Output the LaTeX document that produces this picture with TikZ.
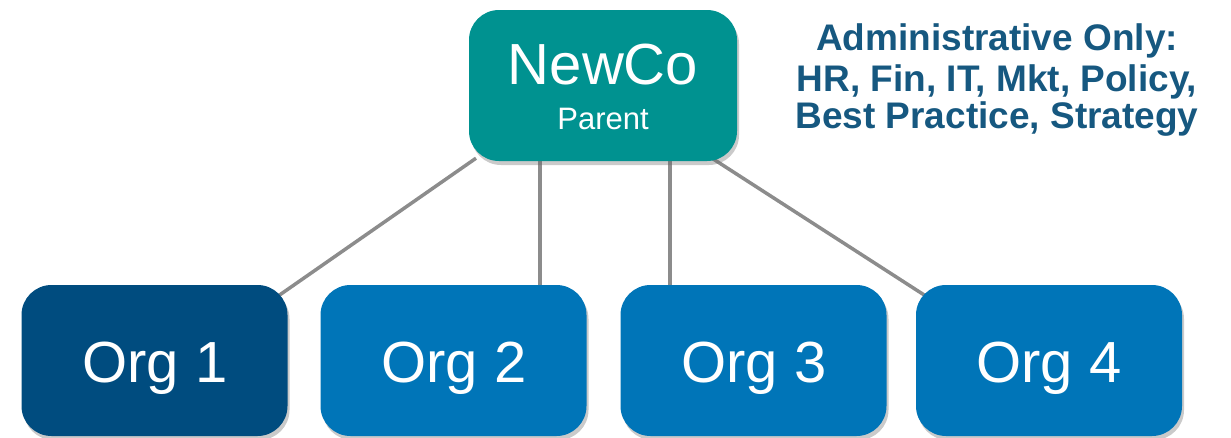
\documentclass[tikz,border=0pt]{standalone}
\usepackage{fontspec}
\setmainfont{Liberation Sans}
\usetikzlibrary{shadows,backgrounds}
\definecolor{teal1}{RGB}{0,146,144}
\definecolor{navy1}{RGB}{0,76,127}
\definecolor{blue1}{RGB}{0,117,184}
\definecolor{txtblue}{RGB}{22,88,128}
\definecolor{linegray}{RGB}{140,140,140}
\begin{document}
\begin{tikzpicture}[x=1pt,y=-1pt,
  box/.style={rounded corners=30pt, inner sep=0pt, minimum height=151pt,
    drop shadow={shadow xshift=2pt, shadow yshift=-4pt, opacity=0.35, fill=black!60}},
  orgbox/.style={box, minimum width=266pt, fill=blue1},
  orgtext/.style={text=white, font=\fontsize{58}{62}\selectfont, anchor=base},
  notetext/.style={text=txtblue, font=\bfseries\fontsize{37}{39}\selectfont, anchor=base},
  conn/.style={draw=linegray, line width=3.5pt}]
\useasboundingbox (0,0) rectangle (1231,437);
% boxes
\node[box, minimum width=268pt, fill=teal1] (parentbox) at (603,85.5) {};
\node[orgbox, fill=navy1] (box1) at (154.5,360.5) {};
\node[orgbox] (box2) at (453.5,360.5) {};
\node[orgbox] (box3) at (753.5,360.5) {};
\node[orgbox] (box4) at (1049,360.5) {};
% connectors behind boxes
\begin{scope}[on background layer]
\draw[conn] ([xshift=-127pt,yshift=3pt]parentbox.south) -- ([xshift=122.5pt,yshift=-12pt]box1.north);
\draw[conn] ([xshift=-63pt]parentbox.south) -- ([xshift=86.5pt]box2.north);
\draw[conn] ([xshift=67pt]parentbox.south) -- ([xshift=-83.5pt]box3.north);
\draw[conn] ([xshift=109pt,yshift=3pt]parentbox.south) -- ([xshift=-122pt,yshift=-12pt]box4.north);
\end{scope}
% texts
\node[text=white, font=\fontsize{58}{62}\selectfont, anchor=base] (newco) at (603,84) {NewCo};
\node[text=white, font=\fontsize{31}{33}\selectfont, anchor=base] (parent) at (603,129) {Parent};
\node[orgtext] (org1) at (155,382) {Org 1};
\node[orgtext] (org2) at (454,382) {Org 2};
\node[orgtext] (org3) at (754,382) {Org 3};
\node[orgtext] (org4) at (1049,382) {Org 4};
\node[notetext] (note1) at (997,50) {Administrative Only:};
\node[notetext] (note2) at (997,91) {HR, Fin, IT, Mkt, Policy,};
\node[notetext] (note3) at (997,128) {Best Practice, Strategy};
\end{tikzpicture}
\end{document}
